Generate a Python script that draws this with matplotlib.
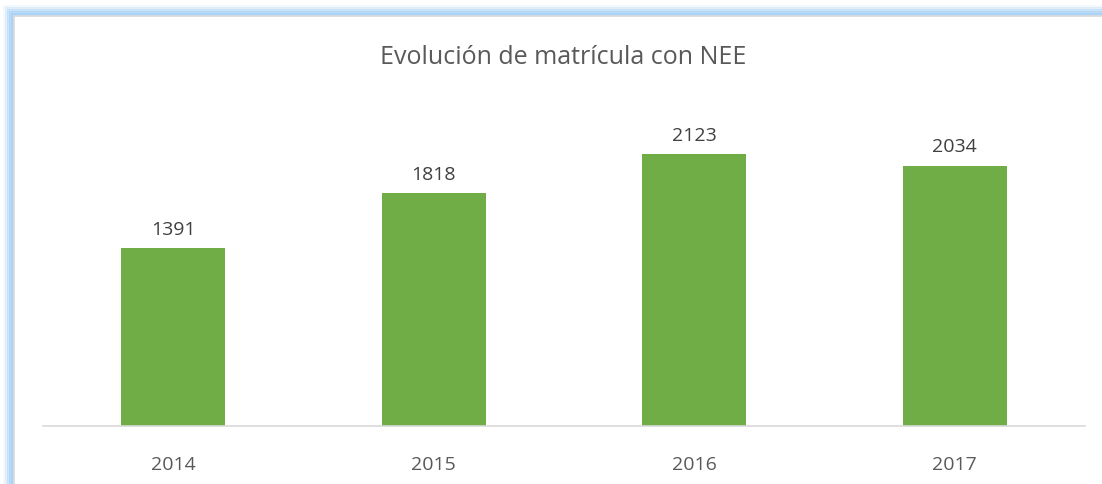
import matplotlib.pyplot as plt
from matplotlib.patches import Rectangle

years = ['2014', '2015', '2016', '2017']
matricula = [1391, 1818, 2123, 2034]

W, H = 1102, 485
fig = plt.figure(figsize=(W / 100, H / 100), dpi=100)
fig.patch.set_facecolor('white')

# blue glow around the chart frame (left and top edges visible)
glow = [(10, 0.12), (8, 0.3), (6, 0.5), (4, 0.7), (2, 0.85)]
for off, a in glow:
    x0 = (14 - off) / W
    y1 = 1 - (17 - off) / H
    fig.patches.append(Rectangle((x0, -0.1), 1.2, y1 + 0.1, transform=fig.transFigure,
                                 facecolor='none', edgecolor='#9fcdf5', lw=2.0, alpha=a,
                                 zorder=-2))
fig.patches.append(Rectangle((14 / W, -0.1), 1.2, 1 - 17 / H + 0.1, transform=fig.transFigure,
                             facecolor='white', edgecolor='#d9d9d9', lw=1.2, zorder=-1))

ax = fig.add_axes([43 / W, 1 - 427 / H, (1085 - 43) / W, 320 / H])
ax.set_facecolor('none')
bars = ax.bar(years, matricula, width=0.4, color='#70ad47')
ax.set_xlim(-0.5, 3.5)
ax.set_ylim(0, 2500)

for b, v in zip(bars, matricula):
    ax.text(b.get_x() + b.get_width() / 2, v + 80, str(v), ha='center', va='bottom',
            fontsize=14, color='#404040', family='Open Sans')

for s in ['top', 'right', 'left']:
    ax.spines[s].set_visible(False)
ax.spines['bottom'].set_color('#d9d9d9')
ax.spines['bottom'].set_linewidth(1.2)
ax.set_yticks([])
ax.tick_params(axis='x', length=0, pad=21, labelsize=14, labelcolor='#595959')
for t in ax.get_xticklabels():
    t.set_family('Open Sans')

fig.text(563 / W, 1 - 57 / H, 'Evolución de matrícula con NEE', ha='center', va='center',
         fontsize=18, color='#595959', family='Open Sans')

fig.savefig('out.png', dpi=100)
